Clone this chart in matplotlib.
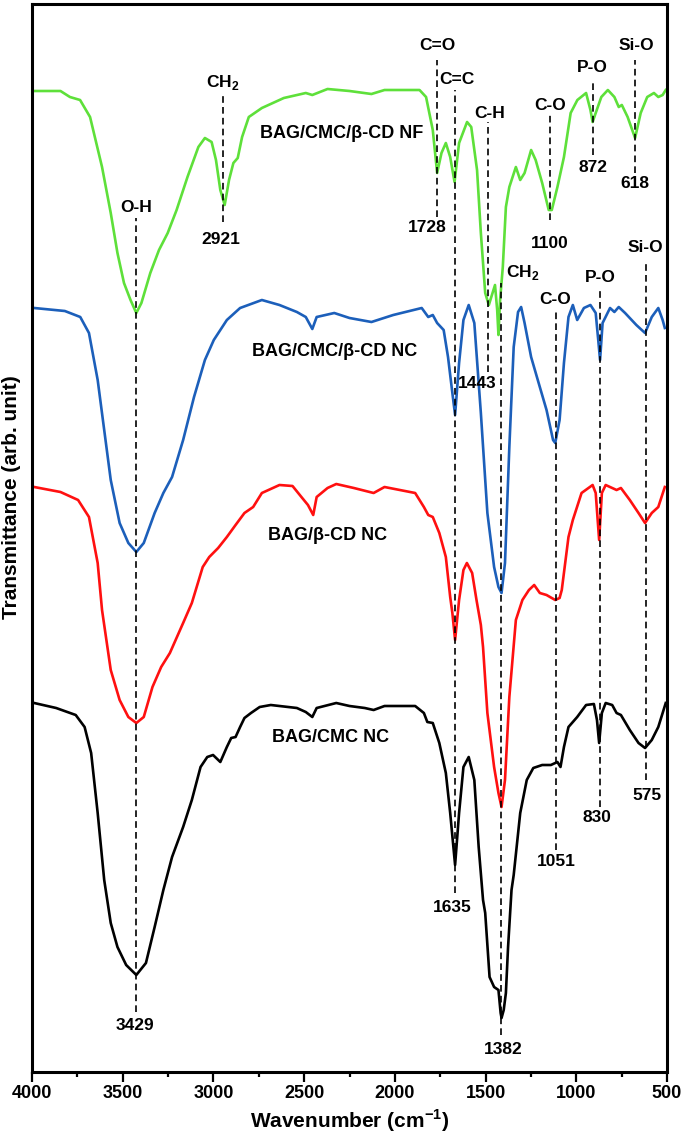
import matplotlib
matplotlib.use('Agg')
import matplotlib.pyplot as plt
from matplotlib.ticker import MultipleLocator

# 글꼴 : Arial 대용
plt.rcParams['font.family'] = ['Liberation Sans', 'DejaVu Sans']
plt.rcParams['mathtext.fontset'] = 'custom'
plt.rcParams['mathtext.rm'] = 'Liberation Sans:bold'
plt.rcParams['mathtext.bf'] = 'Liberation Sans:bold'

# 1. 데이터 : 파수(cm-1) / 투과율 (arb. unit, 세로로 쌓은 값)
nf_wn = [3988, 3843, 3791, 3735, 3680, 3614, 3566, 3529, 3493, 3457, 3425, 3397, 3348, 3300,
         3252, 3203, 3143, 3083, 3047, 3010, 2986, 2962, 2938, 2914, 2890, 2866, 2842, 2805,
         2733, 2612, 2491, 2455, 2371, 2250, 2129, 2057, 1864, 1828, 1791, 1767, 1743, 1719,
         1695, 1671, 1646, 1602, 1579, 1547, 1526, 1502, 1482, 1465, 1448, 1436, 1429, 1420,
         1405, 1388, 1369, 1333, 1309, 1285, 1249, 1224, 1188, 1152, 1135, 1104, 1068, 1031,
         994, 946, 922, 910, 893, 862, 826, 790, 766, 749, 717, 676, 645, 609, 572, 548, 524, 507]
nf_t = [98.1, 98.1, 97.5, 97.2, 95.5, 90.5, 85.9, 81.9, 78.9, 77.2, 75.9, 76.9, 79.9, 82.2,
        83.9, 86.2, 89.5, 92.5, 93.4, 93.0, 91.2, 88.2, 86.7, 89.2, 90.9, 91.4, 93.5, 95.5,
        96.4, 97.4, 97.9, 97.7, 98.3, 98.1, 97.8, 98.2, 98.2, 97.5, 94.2, 89.9, 91.9, 92.9,
        91.5, 89.0, 92.9, 95.0, 94.5, 90.2, 83.9, 77.9, 76.7, 77.7, 78.7, 76.2, 73.7, 77.2,
        80.5, 86.5, 88.5, 90.5, 89.2, 89.9, 92.2, 91.2, 88.9, 86.2, 86.2, 88.5, 91.5, 95.9,
        97.2, 97.9, 96.2, 95.0, 95.9, 97.5, 98.2, 97.5, 96.5, 96.7, 95.5, 93.4, 95.9, 97.5,
        97.9, 97.5, 97.7, 98.2]

cd_nc_wn = [3988, 3819, 3734, 3686, 3638, 3602, 3566, 3517, 3469, 3425, 3384, 3324, 3276, 3228,
            3167, 3107, 3047, 2998, 2926, 2853, 2793, 2733, 2636, 2540, 2491, 2455, 2431, 2334,
            2250, 2129, 2009, 1852, 1816, 1791, 1767, 1731, 1707, 1683, 1668, 1646, 1622, 1593,
            1562, 1526, 1490, 1453, 1429, 1412, 1393, 1369, 1345, 1321, 1304, 1285, 1249, 1201,
            1164, 1128, 1116, 1092, 1068, 1043, 1019, 995, 958, 922, 893, 879, 869, 855, 814,
            790, 766, 731, 669, 621, 584, 548, 524, 512]
cd_nc_t = [76.4, 76.1, 75.5, 73.9, 69.2, 64.2, 59.2, 54.9, 52.9, 52.0, 52.9, 55.9, 57.9, 59.5,
           63.2, 67.5, 71.2, 73.2, 75.2, 76.4, 76.8, 77.2, 76.7, 76.0, 75.5, 74.3, 75.5, 75.9,
           75.4, 75.0, 75.7, 76.4, 75.5, 75.7, 74.9, 74.2, 71.5, 67.9, 65.7, 70.9, 75.2, 76.7,
           74.9, 65.9, 55.9, 50.5, 48.5, 47.9, 50.9, 62.5, 72.5, 76.0, 76.5, 74.9, 71.5, 68.5,
           66.2, 63.2, 62.9, 65.2, 70.9, 75.5, 76.7, 75.2, 76.4, 76.7, 75.9, 73.2, 71.2, 74.9, 76.4,
           76.0, 76.5, 75.9, 74.7, 73.9, 75.5, 76.4, 75.2, 74.4]

bcd_wn = [3988, 3843, 3746, 3686, 3638, 3614, 3566, 3517, 3469, 3425, 3384, 3336, 3288, 3240,
          3167, 3119, 3059, 3023, 2974, 2926, 2878, 2829, 2781, 2733, 2636, 2564, 2515, 2479,
          2450, 2431, 2371, 2323, 2226, 2117, 2057, 1888, 1840, 1816, 1791, 1755, 1719, 1695,
          1683, 1668, 1646, 1622, 1603, 1574, 1550, 1526, 1514, 1490, 1453, 1429, 1412, 1393,
          1369, 1333, 1297, 1261, 1232, 1201, 1164, 1116, 1092, 1080, 1043, 1019, 971, 910,
          893, 874, 859, 838, 802, 778, 754, 705, 657, 621, 584, 548, 512]
bcd_t = [58.5, 58.0, 57.2, 55.5, 50.9, 46.2, 40.2, 37.2, 35.5, 34.9, 35.5, 38.5, 40.5, 41.9,
         44.9, 46.9, 50.5, 51.5, 52.4, 53.5, 54.7, 55.9, 56.5, 57.9, 58.7, 58.6, 57.5, 56.7,
         55.7, 57.5, 58.4, 58.8, 58.4, 57.9, 58.5, 57.9, 56.5, 55.7, 55.5, 53.9, 51.5, 47.5,
         45.9, 43.2, 47.2, 50.2, 50.9, 49.9, 47.2, 44.7, 42.5, 35.9, 30.5, 27.9, 26.5, 29.2,
         37.5, 45.2, 47.2, 48.2, 48.7, 47.9, 47.7, 47.2, 47.4, 48.2, 53.5, 55.2, 57.9, 58.7,
         57.9, 53.2, 57.9, 58.7, 58.4, 58.2, 58.4, 57.2, 55.9, 54.9, 55.9, 56.5, 58.5]

cmc_wn = [3988, 3867, 3759, 3710, 3674, 3638, 3602, 3566, 3529, 3481, 3425, 3372, 3324, 3276,
          3228, 3167, 3119, 3071, 3034, 3002, 2962, 2926, 2902, 2878, 2853, 2829, 2793, 2745,
          2684, 2540, 2491, 2455, 2431, 2323, 2250, 2166, 2117, 2057, 1888, 1840, 1821, 1791,
          1755, 1719, 1695, 1668, 1646, 1622, 1593, 1562, 1538, 1514, 1502, 1478, 1453, 1429,
          1417, 1412, 1400, 1388, 1376, 1357, 1345, 1309, 1273, 1237, 1188, 1140, 1104, 1087,
          1068, 1043, 995, 946, 903, 886, 874, 859, 838, 802, 778, 754, 705, 657, 621, 584,
          548, 524, 507]
cmc_t = [36.9, 36.4, 35.7, 34.5, 31.9, 25.9, 19.2, 14.9, 12.5, 10.7, 9.7, 10.9, 14.5, 18.2,
         21.5, 24.5, 27.2, 30.5, 31.5, 31.7, 31.0, 32.5, 33.4, 33.5, 34.5, 35.4, 35.9, 36.5,
         36.7, 36.4, 36.0, 35.5, 36.4, 36.9, 36.6, 36.4, 36.2, 36.6, 36.6, 35.9, 35.0, 34.9,
         32.9, 29.9, 25.9, 20.7, 25.9, 30.5, 31.5, 29.2, 22.5, 17.2, 15.9, 9.5, 8.5, 8.2,
         5.9, 5.4, 6.2, 7.9, 12.5, 18.2, 19.7, 25.9, 29.2, 30.4, 30.7, 30.7, 31.0, 30.5,
         32.5, 34.5, 35.5, 36.7, 36.8, 35.2, 32.9, 35.9, 36.9, 36.7, 35.9, 35.7, 34.2, 32.9,
         32.4, 33.2, 34.5, 35.9, 36.9]

series = [(nf_wn, nf_t, '#5ee03a'), (cd_nc_wn, cd_nc_t, '#1c5fba'),
          (bcd_wn, bcd_t, '#ff1010'), (cmc_wn, cmc_t, 'black')]

sample_names = ['BAG/CMC/β-CD NF', 'BAG/CMC/β-CD NC', 'BAG/β-CD NC', 'BAG/CMC NC']
sample_pos = [(2293, 93.9), (2334, 72.0), (2371, 53.7), (2354, 33.4)]

# 점선 : 파수, 위 끝, 아래 끝
guide_lines = [(3425, 85.4, 6.0), (2948, 97.7, 85.0), (1767, 101.2, 85.5),
               (1670, 98.2, 17.9), (1485, 95.0, 70.0), (1413, 78.9, 3.7),
               (1144, 95.7, 85.2), (910, 99.0, 91.7), (676, 101.2, 89.9),
               (618, 81.2, 29.2), (869, 78.2, 26.5), (1111, 76.2, 22.2)]

# 피크 이름, 파수 라벨
peak_labels = [('O-H', 3425, 86.4), ('CH$_2$', 2948, 99.0), ('C=O', 1767, 102.7),
               ('C-H', 1480, 95.9), ('CH$_2$', 1297, 79.9), ('C-O', 1144, 96.7),
               ('P-O', 914, 100.4), ('Si-O', 670, 102.7), ('Si-O', 621, 82.4),
               ('P-O', 869, 79.4), ('C-O', 1115, 77.2),
               ('2921', 2957, 83.3), ('1728', 1822, 84.4), ('1100', 1144, 82.9),
               ('872', 906, 90.5), ('618', 676, 88.9), ('1443', 1545, 68.9),
               ('1635', 1683, 16.5), ('1382', 1405, 2.2), ('3429', 3433, 4.7),
               ('1051', 1111, 21.0), ('830', 886, 25.4), ('575', 609, 27.7)]

# 2. 차트 그리기
fig = plt.figure(figsize=(6.85, 11.39), dpi=100)
ax = fig.add_axes([32 / 685, 67 / 1139, 635 / 685, 1068 / 1139])

for wn, t, c in series:
    ax.plot(wn, t, color=c, lw=1.9, zorder=2)

for x, top, bottom in guide_lines:
    ax.vlines(x, bottom, top, colors='black', lw=1.2,
              linestyles=(0, (4, 2.5)), zorder=3)

for name, (x, y) in zip(sample_names, sample_pos):
    ax.text(x, y, name, fontsize=13, fontweight='bold',
            ha='center', va='center', zorder=4)

for lab, x, y in peak_labels:
    ax.text(x, y, lab, fontsize=12.5, fontweight='bold',
            ha='center', va='center', zorder=4)
ax.text(1755, 99.2, 'C=C', fontsize=12.5, fontweight='bold',
        ha='left', va='center', zorder=4)

ax.set_xlim(4000, 500)
ax.set_ylim(0, 106.8)
ax.xaxis.set_major_locator(MultipleLocator(500))
ax.xaxis.set_minor_locator(MultipleLocator(250))
ax.set_yticks([])
ax.tick_params(axis='x', which='major', direction='out', length=7, width=1.6,
               labelsize=13, pad=2)
ax.tick_params(axis='x', which='minor', direction='out', length=3.5, width=1.6)
for lab in ax.get_xticklabels():
    lab.set_fontweight('bold')
for s in ax.spines.values():
    s.set_linewidth(2.2)

ax.set_xlabel(r'Wavenumber (cm$^{\mathbf{-1}}$)', fontsize=15, fontweight='bold', labelpad=4)
ax.set_ylabel('Transmittance (arb. unit)', fontsize=15, fontweight='bold')
ax.yaxis.set_label_coords(-0.017, 0.538)

fig.savefig('out.png', dpi=100)
